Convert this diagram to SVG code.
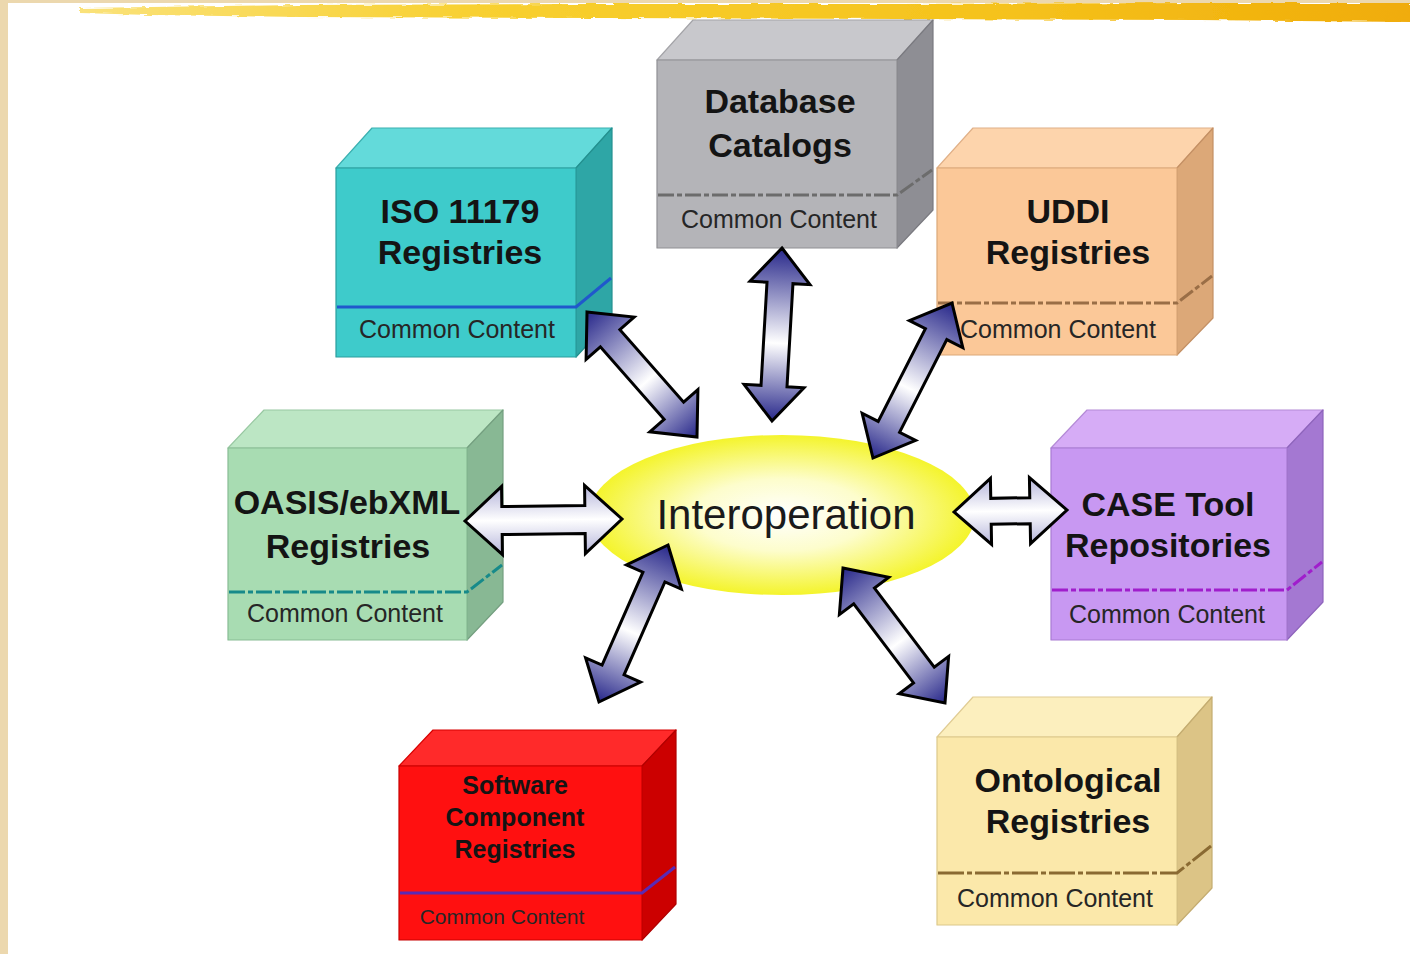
<svg xmlns="http://www.w3.org/2000/svg" width="1410" height="954" viewBox="0 0 1410 954">
  <style>
    .title { font-family: "Liberation Sans", Arial, sans-serif; font-weight: bold; font-size: 34px; fill: #141414; text-anchor: middle; }
    .cc { font-family: "Liberation Sans", Arial, sans-serif; font-size: 25px; fill: #262626; text-anchor: middle; }
    .face { stroke-width: 1.2; stroke-linejoin: round; }
    .sep { fill: none; stroke-width: 3; }
    .arrow { stroke: #000; stroke-width: 3; stroke-linejoin: miter; }
  </style>
  <defs>
    <linearGradient id="brush" x1="0" y1="0" x2="1" y2="0">
      <stop offset="0" stop-color="#fae27a"/>
      <stop offset="0.3" stop-color="#f8d030"/>
      <stop offset="0.7" stop-color="#f5c21c"/>
      <stop offset="1" stop-color="#f0ac08"/>
    </linearGradient>
    <filter id="rough" x="-2%" y="-60%" width="104%" height="220%">
      <feTurbulence type="fractalNoise" baseFrequency="0.06 0.4" numOctaves="2" seed="3"/>
      <feDisplacementMap in="SourceGraphic" scale="4"/>
    </filter>
    <radialGradient id="glow" cx="0.5" cy="0.5" r="0.5">
      <stop offset="0" stop-color="#ffffff"/>
      <stop offset="0.45" stop-color="#fdfdcc"/>
      <stop offset="1" stop-color="#f4f42c"/>
    </radialGradient>
    <!-- fill for the dark double arrows, along the arrow axis -->
    <linearGradient id="darkArrow" x1="0" y1="0" x2="1" y2="0">
      <stop offset="0" stop-color="#27278a"/>
      <stop offset="0.55" stop-color="#ffffff"/>
      <stop offset="1" stop-color="#27278a"/>
    </linearGradient>
    <!-- fill for the pale horizontal arrows, across the arrow -->
    <linearGradient id="paleArrow" x1="0" y1="0" x2="0" y2="1">
      <stop offset="0" stop-color="#b4b4da"/>
      <stop offset="0.5" stop-color="#ffffff"/>
      <stop offset="1" stop-color="#b4b4da"/>
    </linearGradient>
  </defs>

  <!-- page -->
  <rect width="1410" height="954" fill="#ffffff"/>
  <rect x="0" y="0" width="8" height="954" fill="#ecd8ae"/>
  <rect x="0" y="0" width="1410" height="3" fill="#ecd8ae"/>
  <path d="M80,8 L300,5 L600,4 L900,4 L1200,3 L1410,3 L1410,22 L1200,20 L900,19 L600,18 L300,17 L150,15 L80,13 Z" fill="url(#brush)" filter="url(#rough)"/>

  <!-- ISO 11179 Registries -->
  <g id="iso">
    <polygon class="face" points="336,168 372,128 612,128 576,168" fill="#63dada" stroke="#3bb0b0"/>
    <polygon class="face" points="576,168 612,128 612,318 576,357" fill="#2ea6a6" stroke="#23908f"/>
    <rect class="face" x="336" y="168" width="240" height="189" fill="#3ecbcb" stroke="#2a9e9e"/>
    <path class="sep" d="M337,307 L576,307 L611,278" stroke="#2058cc"/>
    <text class="title" x="460" y="223">ISO 11179</text>
    <text class="title" x="460" y="264">Registries</text>
    <text class="cc" x="457" y="338" fill="#0d3535">Common Content</text>
  </g>

  <!-- Database Catalogs -->
  <g id="database">
    <polygon class="face" points="657,60 693,20 933,20 897,60" fill="#c8c8cc" stroke="#a4a4a8"/>
    <polygon class="face" points="897,60 933,20 933,210 897,248" fill="#8e8e94" stroke="#7a7a80"/>
    <rect class="face" x="657" y="60" width="240" height="188" fill="#b4b4b8" stroke="#909094"/>
    <path class="sep" d="M658,195 L897,195 L932,170" stroke="#6c6c6c" stroke-dasharray="16 3 5 3"/>
    <text class="title" x="780" y="113">Database</text>
    <text class="title" x="780" y="157">Catalogs</text>
    <text class="cc" x="779" y="228">Common Content</text>
  </g>

  <!-- UDDI Registries -->
  <g id="uddi">
    <polygon class="face" points="937,168 973,128 1213,128 1177,168" fill="#fdd4ac" stroke="#e0b088"/>
    <polygon class="face" points="1177,168 1213,128 1213,318 1177,355" fill="#dca878" stroke="#c49064"/>
    <rect class="face" x="937" y="168" width="240" height="187" fill="#fbc898" stroke="#dba878"/>
    <path class="sep" d="M938,303 L1177,303 L1212,276" stroke="#9a6e46" stroke-dasharray="16 3 5 3"/>
    <text class="title" x="1068" y="223">UDDI</text>
    <text class="title" x="1068" y="264">Registries</text>
    <text class="cc" x="1058" y="338">Common Content</text>
  </g>

  <!-- OASIS/ebXML Registries -->
  <g id="oasis">
    <polygon class="face" points="228,448 264,410 503,410 467,448" fill="#bce6c4" stroke="#98c8a2"/>
    <polygon class="face" points="467,448 503,410 503,602 467,640" fill="#88b894" stroke="#749f80"/>
    <rect class="face" x="228" y="448" width="239" height="192" fill="#a8dcb2" stroke="#88bc94"/>
    <path class="sep" d="M229,592 L467,592 L502,565" stroke="#178a8a" stroke-dasharray="16 3 5 3"/>
    <text class="title" x="347" y="514">OASIS/ebXML</text>
    <text class="title" x="348" y="558">Registries</text>
    <text class="cc" x="345" y="622" fill="#183a22">Common Content</text>
  </g>

  <!-- CASE Tool Repositories -->
  <g id="case">
    <polygon class="face" points="1051,448 1087,410 1323,410 1287,448" fill="#d6acf6" stroke="#b48ad6"/>
    <polygon class="face" points="1287,448 1323,410 1323,602 1287,640" fill="#a478d2" stroke="#8e64bc"/>
    <rect class="face" x="1051" y="448" width="236" height="192" fill="#c898f2" stroke="#a87ad2"/>
    <path class="sep" d="M1052,590 L1287,590 L1322,562" stroke="#a01ecc" stroke-dasharray="16 3 5 3"/>
    <text class="title" x="1168" y="516">CASE Tool</text>
    <text class="title" x="1168" y="557">Repositories</text>
    <text class="cc" x="1167" y="623" fill="#2a1640">Common Content</text>
  </g>

  <!-- Software Component Registries -->
  <g id="software">
    <polygon class="face" points="399,766 433,730 676,730 642,766" fill="#ff2a2a" stroke="#d80000"/>
    <polygon class="face" points="642,766 676,730 676,904 642,940" fill="#cc0000" stroke="#b00000"/>
    <rect class="face" x="399" y="766" width="243" height="174" fill="#ff1010" stroke="#c80000"/>
    <path class="sep" d="M400,893 L642,893 L675,867" stroke="#5a2ab4"/>
    <text class="title" x="515" y="794" style="font-size:25px" fill="#5e0606">Software</text>
    <text class="title" x="515" y="826" style="font-size:25px" fill="#5e0606">Component</text>
    <text class="title" x="515" y="858" style="font-size:25px" fill="#5e0606">Registries</text>
    <text class="cc" x="502" y="924" style="font-size:21px" fill="#5a0606">Common Content</text>
  </g>

  <!-- Ontological Registries -->
  <g id="ontological">
    <polygon class="face" points="937,737 973,697 1212,697 1177,737" fill="#fcefbe" stroke="#e0cc94"/>
    <polygon class="face" points="1177,737 1212,697 1212,888 1177,925" fill="#dcc486" stroke="#c4ac70"/>
    <rect class="face" x="937" y="737" width="240" height="188" fill="#fbe8aa" stroke="#dcc88a"/>
    <path class="sep" d="M938,873 L1177,873 L1211,846" stroke="#8a6a32" stroke-dasharray="26 3 5 3"/>
    <text class="title" x="1068" y="792">Ontological</text>
    <text class="title" x="1068" y="833">Registries</text>
    <text class="cc" x="1055" y="907">Common Content</text>
  </g>

  <!-- Interoperation hub -->
  <g id="hub">
    <ellipse cx="782" cy="515" rx="193" ry="80" fill="url(#glow)"/>
    <text x="786" y="529" text-anchor="middle" style="font-family:'Liberation Sans', Arial, sans-serif; font-size:42px; fill:#1a1a1a">Interoperation</text>
  </g>

  <!-- double-headed block arrows: each drawn along +x from tip to tip, then placed -->
  <g id="connectors">
    <path class="arrow" fill="url(#darkArrow)" transform="translate(587,312) rotate(48.65)"
          d="M0,0 L35,-32 L35,-13 L131.5,-13 L131.5,-32 L166.5,0 L131.5,32 L131.5,13 L35,13 L35,32 Z"/>
    <path class="arrow" fill="url(#darkArrow)" transform="translate(782,248) rotate(93.31)"
          d="M0,0 L35,-30 L35,-13 L138.3,-13 L138.3,-30 L173.3,0 L138.3,30 L138.3,13 L35,13 L35,30 Z"/>
    <path class="arrow" fill="url(#darkArrow)" transform="translate(952,303) rotate(117.01)"
          d="M0,0 L35,-30 L35,-12 L139,-12 L139,-30 L174,0 L139,30 L139,12 L35,12 L35,30 Z"/>
    <path class="arrow" fill="url(#paleArrow)" transform="translate(465,521) rotate(-0.73)"
          d="M0,0 L37,-34 L37,-14 L120,-14 L120,-34 L157,0 L120,34 L120,14 L37,14 L37,34 Z"/>
    <path class="arrow" fill="url(#paleArrow)" transform="translate(954,512) rotate(-1.01)"
          d="M0,0 L37,-33 L37,-13 L76,-13 L76,-33 L113,0 L76,33 L76,13 L37,13 L37,33 Z"/>
    <path class="arrow" fill="url(#darkArrow)" transform="translate(668,545) rotate(113.73)"
          d="M0,0 L35,-30 L35,-12 L136.5,-12 L136.5,-30 L171.5,0 L136.5,30 L136.5,12 L35,12 L35,30 Z"/>
    <path class="arrow" fill="url(#darkArrow)" transform="translate(843,568) rotate(52.93)"
          d="M0,0 L35,-31 L35,-13 L134.2,-13 L134.2,-31 L169.2,0 L134.2,31 L134.2,13 L35,13 L35,31 Z"/>
  </g>
</svg>
